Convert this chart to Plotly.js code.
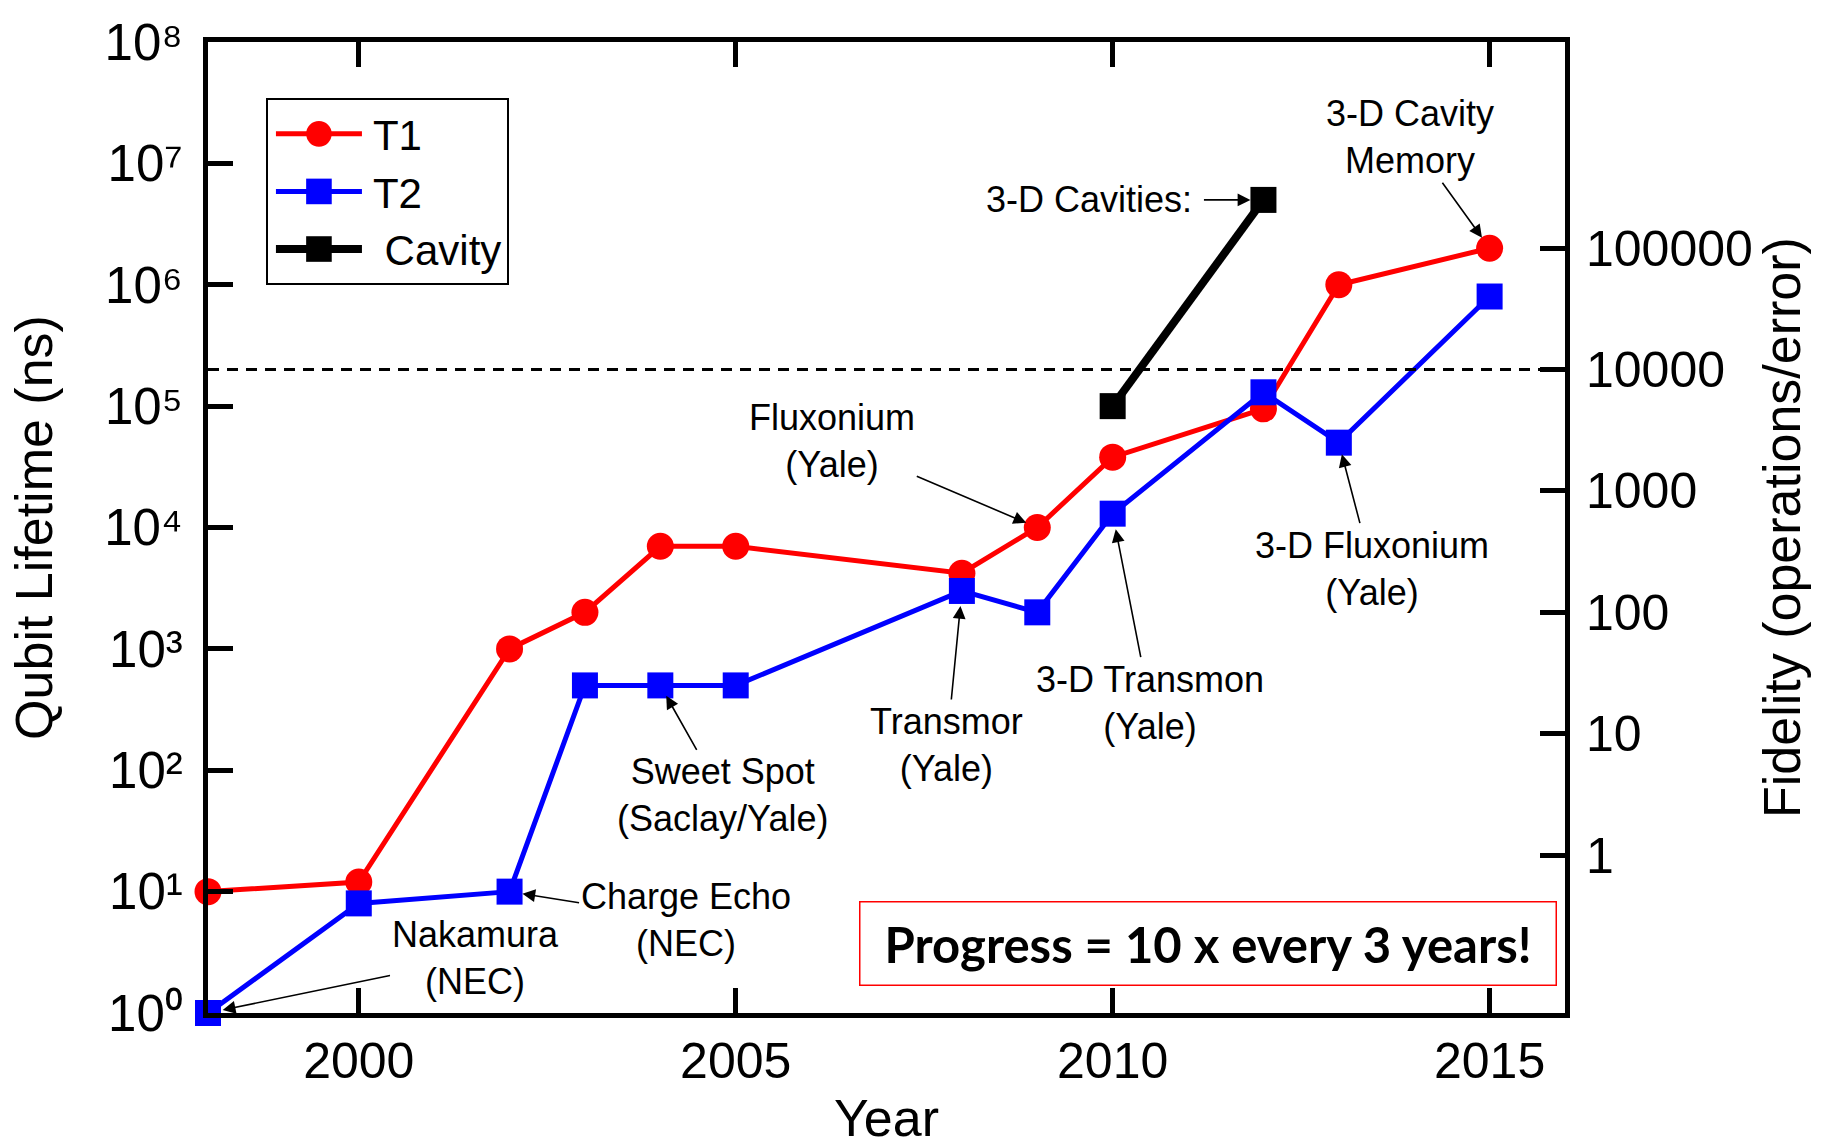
<!DOCTYPE html>
<html><head><meta charset="utf-8">
<script src="https://cdn.plot.ly/plotly-3.0.1.min.js"></script>
<style>html,body{margin:0;padding:0;background:#fff;} #chart{width:1829px;height:1147px;}</style>
</head><body><div id="chart"></div>
<script>
// ---- data ----
const years = [1998, 2000, 2002, 2003, 2004, 2005, 2008, 2009, 2010, 2012, 2013, 2015];
const t1 = [10, 12, 1000, 2000, 7000, 7000, 4200, 10000, 38000, 95000, 1000000, 2000000];
const t2 = [1, 8, 10, 500, 500, 500, 3000, 2000, 13000, 130000, 50000, 800000];
const cavityYears = [2010, 2012];
const cavity = [100000, 5000000];
const thresholdYears = [1998, 2016];
const thresholdFidelity = [10000, 10000];
const xTickVals = [2000, 2005, 2010, 2015];
const lifetimeTickVals = [1, 10, 100, 1000, 10000, 100000, 1000000, 10000000, 100000000];
const lifetimeTickText = ['10\u2070', '10\u00b9', '10\u00b2', '10\u00b3', '10\u2074', '10\u2075', '10\u2076', '10\u2077', '10\u2078'];
const fidelityTickVals = [1, 10, 100, 1000, 10000, 100000];
const fidelityTickText = ['1', '10', '100', '1000', '10000', '100000'];
const lifetimePerFidelity = 20;
const lifetimeRange = [1, 100000000];

const FONT = 'Liberation Sans, Arial, sans-serif';

const traces = [
  {x: thresholdYears, y: thresholdFidelity, yaxis: 'y2', mode: 'lines', showlegend: false, hoverinfo: 'skip',
   line: {color: 'black', width: 3, dash: '11px,8px'}},
  {x: years, y: t1, name: 'T1', mode: 'lines+markers', cliponaxis: false,
   line: {color: '#ff0000', width: 5}, marker: {symbol: 'circle', size: 27, color: '#ff0000'}},
  {x: years, y: t2, name: 'T2', mode: 'lines+markers', cliponaxis: false,
   line: {color: '#0000ff', width: 5}, marker: {symbol: 'square', size: 26, color: '#0000ff'}},
  {x: cavityYears, y: cavity, name: '\u00a0Cavity', mode: 'lines+markers', cliponaxis: false,
   line: {color: '#000000', width: 8}, marker: {symbol: 'square', size: 26, color: '#000000'}}
];

// labels: text, the data point the arrow points at, pixel offset of the text centre from it
const labels = [
  {text: 'Nakamura<br>(NEC)', x: years[0], y: t2[0], ax: 267, ay: -55, standoff: 15},
  {text: 'Charge Echo<br>(NEC)', x: years[2], y: t2[2], ax: 176, ay: 28, standoff: 13},
  {text: 'Sweet Spot<br>(Saclay/Yale)', x: years[4], y: t2[4], ax: 62, ay: 110, standoff: 12},
  {text: 'Transmor<br>(Yale)', x: years[6], y: t2[6], ax: -15, ay: 154, standoff: 15},
  {text: '3-D Transmon<br>(Yale)', x: years[8], y: t2[8], ax: 37, ay: 189, standoff: 16},
  {text: 'Fluxonium<br>(Yale)', x: years[7], y: t1[7], ax: -205, ay: -87, standoff: 12},
  {text: '3-D Cavities:', x: cavityYears[1], y: cavity[1], ax: -174, ay: 0, standoff: 13, pad: 11},
  {text: '3-D Cavity<br>Memory', x: years[11], y: t1[11], ax: -80, ay: -111, standoff: 13},
  {text: '3-D Fluxonium<br>(Yale)', x: years[10], y: t2[10], ax: 33, ay: 126, standoff: 12}
];

const annotations = labels.map(l => ({
  xref: 'x', yref: 'y', x: l.x, y: Math.log10(l.y), text: l.text, showarrow: true,
  axref: 'pixel', ayref: 'pixel', ax: l.ax, ay: l.ay, standoff: l.standoff,
  arrowhead: 2, arrowsize: 1.6, arrowwidth: 1.6, arrowcolor: '#000',
  borderpad: l.pad || 1, align: 'center',
  font: {family: FONT, size: 36, color: '#000'}
}));
annotations.push({
  xref: 'paper', yref: 'paper', x: 0.7366, y: 0.0711, xanchor: 'center', yanchor: 'middle',
  text: 'Progress = 10 x every 3 years!', showarrow: false,
  font: {family: 'Lato, Open Sans, sans-serif', size: 49, color: '#000', weight: 700},
  bordercolor: '#ff0000', borderwidth: 1.5, borderpad: 0, width: 695, height: 82, bgcolor: 'rgba(255,255,255,0)'
});

const axisCommon = {
  showgrid: false, zeroline: false, showline: true, linecolor: '#000', linewidth: 5,
  ticks: 'inside', ticklen: 25, tickwidth: 5, tickcolor: '#000',
  tickfont: {family: FONT, size: 50, color: '#000'}, tickangle: 0
};

const layout = {
  width: 1829, height: 1147,
  margin: {l: 208, r: 264, t: 42, b: 134, pad: 0},
  paper_bgcolor: '#fff', plot_bgcolor: '#fff',
  showlegend: true,
  legend: {x: 0.0427, y: 0.9423, xanchor: 'left', yanchor: 'top',
    bgcolor: '#fff', bordercolor: '#000', borderwidth: 2,
    font: {family: FONT, size: 42, color: '#000'}, itemwidth: 95, tracegroupgap: 0},
  xaxis: Object.assign({}, axisCommon, {
    range: [1998, 2016], tickvals: xTickVals, ticktext: xTickVals.map(String), mirror: 'ticks',
    ticklabelstandoff: 0,
    title: {text: 'Year', font: {family: FONT, size: 52, color: '#000'}, standoff: 40}
  }),
  yaxis: Object.assign({}, axisCommon, {
    type: 'log', range: [Math.log10(lifetimeRange[0]), Math.log10(lifetimeRange[1])],
    tickvals: lifetimeTickVals, ticktext: lifetimeTickText, ticklabelstandoff: 10,
    tickfont: {family: FONT, size: 51, color: '#000'},
    title: {text: 'Qubit Lifetime (ns)', font: {family: FONT, size: 52, color: '#000'}, standoff: 36}
  }),
  yaxis2: Object.assign({}, axisCommon, {
    type: 'log', overlaying: 'y', side: 'right', anchor: 'x',
    range: [Math.log10(lifetimeRange[0] / lifetimePerFidelity), Math.log10(lifetimeRange[1] / lifetimePerFidelity)],
    tickvals: fidelityTickVals, ticktext: fidelityTickText, ticklabelstandoff: 6,
    title: {text: 'Fidelity (operations/error)', font: {family: FONT, size: 52, color: '#000'}, standoff: 2}
  }),
  annotations: annotations
};

Plotly.newPlot('chart', traces, layout, {displayModeBar: false, staticPlot: true}).then(function (gd) {
  try {
    gd.querySelectorAll('.legend .traces').forEach(function (tr) {
      tr.querySelectorAll('.legendlines path').forEach(function (p) { p.setAttribute('d', 'M8,0h86'); });
      tr.querySelectorAll('.legendpoints path').forEach(function (p) { p.setAttribute('transform', 'translate(51,0) scale(1.6)'); });
    });
  } catch (e) {}
});
</script>
</body></html>
